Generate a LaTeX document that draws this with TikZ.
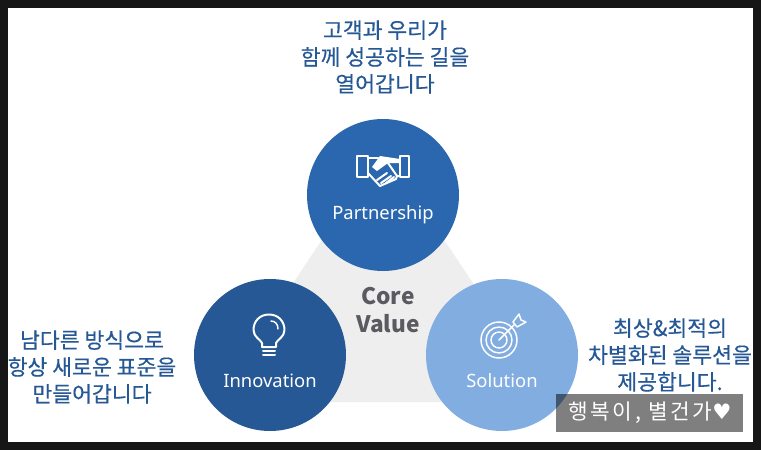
\documentclass[tikz,border=0pt]{standalone}
\usepackage{fontspec}
\setmainfont{Noto Sans}
\newfontfamily\krfont[FakeBold=0.35]{Noto Sans CJK KR}
\newfontfamily\markfont[LetterSpace=12]{Noto Sans CJK KR}
\newfontfamily\corefont{Noto Sans CJK KR}
\newfontfamily\symfont{DejaVu Sans}
\usepackage{tikz}
\definecolor{framedark}{HTML}{161616}
\definecolor{triangray}{HTML}{EEEEEE}
\definecolor{partblue}{HTML}{2B67AF}
\definecolor{innoblue}{HTML}{255894}
\definecolor{solublue}{HTML}{82ADE0}
\definecolor{textblue}{HTML}{255894}
\definecolor{coregray}{HTML}{5A5A60}
\tikzset{
  valuecircle/.style={circle,minimum size=114pt,inner sep=0pt},
  valuelabel/.style={text=white,font=\fontsize{13.8}{16}\selectfont},
  saying/.style={align=center,text=textblue,font=\krfont\fontsize{16.2}{20.2}\selectfont},
  iconline/.style={draw=white,line width=1.5pt,line cap=round,line join=round},
  iconthin/.style={draw=white,line width=1.1pt,line cap=round,line join=round},
}
\begin{document}
\begin{tikzpicture}[x=0.75pt,y=-0.75pt]
    \useasboundingbox (0,0) rectangle (761,450);
    \fill[framedark] (0,0) rectangle (761,450);
    \fill[white] (8,8) rectangle (753,442);
    % triangle behind the circles
    \fill[triangray] (383,148) -- (214,402) -- (552,402) -- cycle;
    \node[valuecircle,fill=partblue] (partner) at (383,195) {};
    \node[valuecircle,fill=innoblue] (innov) at (270,355) {};
    \node[valuecircle,fill=solublue] (solut) at (502,355) {};
    \node[valuelabel] (partnerlabel) at (383,215) {Partnership};
    \node[valuelabel] (innovlabel) at (270,381) {Innovation};
    \node[valuelabel] (solutlabel) at (502,381) {Solution};
    \node[align=center,text=coregray,font=\corefont\bfseries\fontsize{17}{21.5}\selectfont] (core) at (388,310) {Core\\Value};
    \node[saying] (partnersay) at (385,57) {고객과 우리가\\함께 성공하는 길을\\열어갑니다};
    \node[saying] (innovsay) at (92,367) {남다른 방식으로\\항상 새로운 표준을\\만들어갑니다};
    \node[saying] (solutsay) at (670,355) {최상\&최적의\\차별화된 솔루션을\\제공합니다.};
    % handshake
    \begin{scope}
        \draw[iconline] (357,156) rectangle (368,177);
        \draw[iconline] (400,156) rectangle (409,177);
        \draw[iconline] (368,158) -- (378,158);
        \fill[white] (372,167) -- (380,156) -- (400,159) -- (400,163) -- (388,163) -- (377,171) -- cycle;
        \draw[iconline] (388,163) -- (397,176) -- (400,176);
        \draw[iconline] (368,173) -- (380,186) -- (396,179) -- (397,176);
        \draw[iconline] (377,180) -- (387,173);
        \draw[iconline] (381,183) -- (391,176);
        \draw[iconline] (386,183) -- (394,177);
    \end{scope}
    % bulb
    \begin{scope}
        \draw[iconline] (262,347) -- (262,343) .. controls (261,340) and (253.5,337) .. (253.5,330)
            .. controls (253.5,321) and (260,314.5) .. (269,314.5)
            .. controls (278,314.5) and (284.5,321) .. (284.5,330)
            .. controls (284.5,337) and (277,340) .. (276,343) -- (276,347) -- cycle;
        \draw[iconline] (263,351) -- (275,351);
        \draw[iconline] (263,355) -- (275,355);
        \draw[iconthin] (271,321) .. controls (275,321) and (278,324) .. (278,329);
    \end{scope}
    % target
    \begin{scope}
        \foreach \r in {18,13,8} {
            \draw[iconthin] (499,340) circle (\r);
        }
        \draw[iconthin] (499,340) -- (514,325);
        \draw[iconthin] (513,322) -- (519,314) -- (521,320) -- (526,322) -- (517,327) -- cycle;
    \end{scope}
    % watermark on top
    \fill[black,opacity=0.5] (556,394) rectangle (743,432);
    \node[text=white,font=\markfont\fontsize{16}{18}\selectfont] (mark) at (650,413) {행복이, 별건가{\symfont ♥}};
\end{tikzpicture}
\end{document}
